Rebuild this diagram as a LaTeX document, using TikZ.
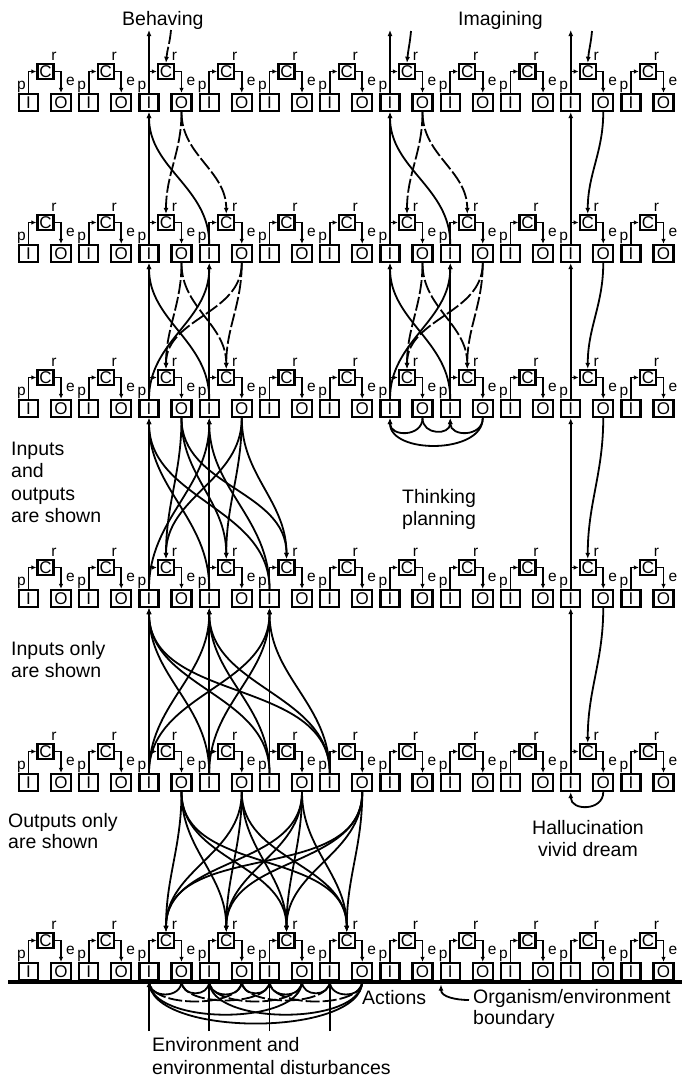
\documentclass[tikz,border=0pt]{standalone}
\usepackage{fontspec}
\setmainfont{Liberation Sans}
\usetikzlibrary{arrows.meta,calc}
\begin{document}
\begin{tikzpicture}[x=1pt,y=-1pt,
  box/.style={draw,line width=2.3pt,inner sep=0pt,fill=white,font=\fontsize{17}{17}\selectfont},
  ibox/.style={box,minimum width=19pt,minimum height=17pt},
  obox/.style={box,minimum width=20pt,minimum height=17pt},
  cbox/.style={box,minimum width=16pt,minimum height=15pt},
  lab/.style={font=\fontsize{15.5}{15.5}\selectfont,inner sep=0pt},
  wire/.style={line width=1.8pt,-{Latex[length=5pt,width=4.5pt]}},
  conn/.style={line width=1.8pt,-{Latex[length=6pt,width=5pt]}},
  plain/.style={line width=1.8pt},
  dsh/.style={dash pattern=on 14pt off 3pt},
  txt/.style={font=\fontsize{19.5}{19.5}\selectfont,inner sep=0pt},
]
\useasboundingbox (0,0) rectangle (682,1082);
\def\rowy{{0,93,244,399,589,773,962}}
% boundary
\coordinate (bl) at (8,982);
\coordinate (br) at (682,982);
\draw[line width=4pt] (bl) -- (br);
% units
\foreach \r in {1,...,6}{
 \foreach \k in {0,...,10}{
  \pgfmathsetmacro\xx{28.5+60.25*\k}
  \pgfmathsetmacro\yy{\rowy[\r]}
  \node[ibox] (I-\r-\k) at (\xx,\yy+9.5) {I};
  \node[obox] (O-\r-\k) at (\xx+32.5,\yy+9.5) {O};
  \node[cbox] (C-\r-\k) at (\xx+17,\yy-21.5) {C};
  \draw[wire] (I-\r-\k.north) |- (C-\r-\k.west);
  \draw[wire] (C-\r-\k.east) -| (O-\r-\k.north);
  \node[lab,anchor=base] (p-\r-\k) at (\xx-7,\yy-4) {p};
  \node[lab,anchor=base] (e-\r-\k) at (\xx+42,\yy-7.5) {e};
  \node[lab,anchor=base] (r-\r-\k) at (\xx+25.5,\yy-33) {r};
 }
}
\newcommand\upc[4]{\draw[conn] (I-#1-#2.north) to[out=90,in=-90] (I-#3-#4.south);}
\newcommand\dnc[5][]{\draw[conn,#1] (O-#2-#3.south) to[out=-90,in=90] (C-#4-#5.north);}
% ---------- top arrows
\coordinate (bt) at (149,30);   \draw[conn] (I-1-2.north) -- (bt);
\coordinate (bs) at (171,30);   \draw[conn,dsh] (bs) to[out=-95,in=85] (C-1-2.north);
\coordinate (it6) at (390,30);  \draw[conn] (I-1-6.north) -- (it6);
\coordinate (is6) at (411,31);  \draw[conn] (is6) to[out=-95,in=85] (C-1-6.north);
\coordinate (it9) at (570.75,30); \draw[conn] (I-1-9.north) -- (it9);
\coordinate (is9) at (592,31);  \draw[conn] (is9) to[out=-95,in=85] (C-1-9.north);
% ---------- left group
\upc{2}{2}{1}{2}\upc{2}{3}{1}{2}
\dnc[dsh]{1}{2}{2}{2}\dnc[dsh]{1}{2}{2}{3}
\foreach \a in {2,3}{\foreach \b in {2,3}{\upc{3}{\a}{2}{\b}\dnc[dsh]{2}{\a}{3}{\b}}}
\foreach \a in {2,3,4}{\foreach \b in {2,3}{\upc{4}{\a}{3}{\b}\dnc{3}{\b}{4}{\a}}}
\foreach \a in {2,3,4,5}{\foreach \b in {2,3,4}{\upc{5}{\a}{4}{\b}}}
\foreach \a in {2,3,4,5}{\foreach \b in {2,3,4,5}{\dnc{5}{\a}{6}{\b}}}
% ---------- right group
\upc{2}{6}{1}{6}\upc{2}{7}{1}{6}
\dnc[dsh]{1}{6}{2}{6}\dnc[dsh]{1}{6}{2}{7}
\foreach \a in {6,7}{\foreach \b in {6,7}{\upc{3}{\a}{2}{\b}\dnc[dsh]{2}{\a}{3}{\b}}}
% thinking loops
\draw[conn] (O-3-6.south) to[out=-90,in=-90,looseness=1.5] (I-3-6.south);
\draw[conn] (O-3-6.south) to[out=-90,in=-90,looseness=1.6] (I-3-7.south);
\draw[conn] (O-3-7.south) to[out=-90,in=-90,looseness=1.5] (I-3-7.south);
\draw[conn] (O-3-7.south) to[out=-90,in=-90,looseness=1] (I-3-6.south);
% unit 9 column
\foreach \a/\b in {1/2,2/3,3/4,4/5}{\upc{\b}{9}{\a}{9}\dnc{\a}{9}{\b}{9}}
\draw[conn] (O-5-9.south) to[out=-90,in=-90,looseness=1.5] (I-5-9.south);
% ---------- environment
\foreach \k/\xx in {2/149,3/209.25,4/269.5,5/329.75}{
  \coordinate (env\k) at (\xx,1031);
  \draw[conn] (env\k) -- (I-6-\k.south);
}
% action arcs
\foreach \k in {2,3,4,5}{\draw[plain] (O-6-\k.south) to[out=-90,in=-90,looseness=1.4] (I-6-\k.south);}
\foreach \k/\m in {2/3,3/4,4/5}{\draw[plain] (O-6-\k.south) to[out=-90,in=-90,looseness=1.5] (I-6-\m.south);}
\foreach \k/\m in {3/2,4/3,5/4,2/4,3/5}{\draw[plain,dsh] (O-6-\k.south) to[out=-90,in=-90,looseness=0.75] (I-6-\m.south);}
\foreach \k/\m in {4/2,5/3}{\draw[plain] (O-6-\k.south) to[out=-90,in=-90,looseness=0.75] (I-6-\m.south);}
\draw[plain] (O-6-5.south) to[out=-90,in=-90,looseness=0.68] (I-6-2.south);
% organism boundary arrow
\coordinate (os) at (469,1000);
\coordinate (ob) at (441,984.5);
\draw[conn] (os) to[out=180,in=-90] (ob);
% ---------- texts
\node[txt,anchor=base west] (t-beh) at (122,25) {Behaving};
\node[txt,anchor=base west] (t-img) at (458,25) {Imagining};
\node[txt,anchor=base west] (t-io1) at (11,455) {Inputs};
\node[txt,anchor=base west] (t-io2) at (11,477.5) {and};
\node[txt,anchor=base west] (t-io3) at (11,500) {outputs};
\node[txt,anchor=base west] (t-io4) at (11,522.5) {are shown};
\node[txt,anchor=base west] (t-in1) at (11,655) {Inputs only};
\node[txt,anchor=base west] (t-in2) at (11,677) {are shown};
\node[txt,anchor=base west] (t-ou1) at (8,827) {Outputs only};
\node[txt,anchor=base west] (t-ou2) at (8,848.5) {are shown};
\node[txt,anchor=base west] (t-th1) at (402,503) {Thinking};
\node[txt,anchor=base west] (t-th2) at (402,525) {planning};
\node[txt,anchor=base] (t-ha1) at (588,834) {Hallucination};
\node[txt,anchor=base] (t-ha2) at (588,856) {vivid dream};
\node[txt,anchor=base west] (t-act) at (362,1004) {Actions};
\node[txt,anchor=base west] (t-org1) at (473,1003) {Organism/environment};
\node[txt,anchor=base west] (t-org2) at (473,1024) {boundary};
\node[txt,anchor=base west] (t-env1) at (152,1051) {Environment and};
\node[txt,anchor=base west] (t-env2) at (152,1074) {environmental disturbances};
\end{tikzpicture}
\end{document}
